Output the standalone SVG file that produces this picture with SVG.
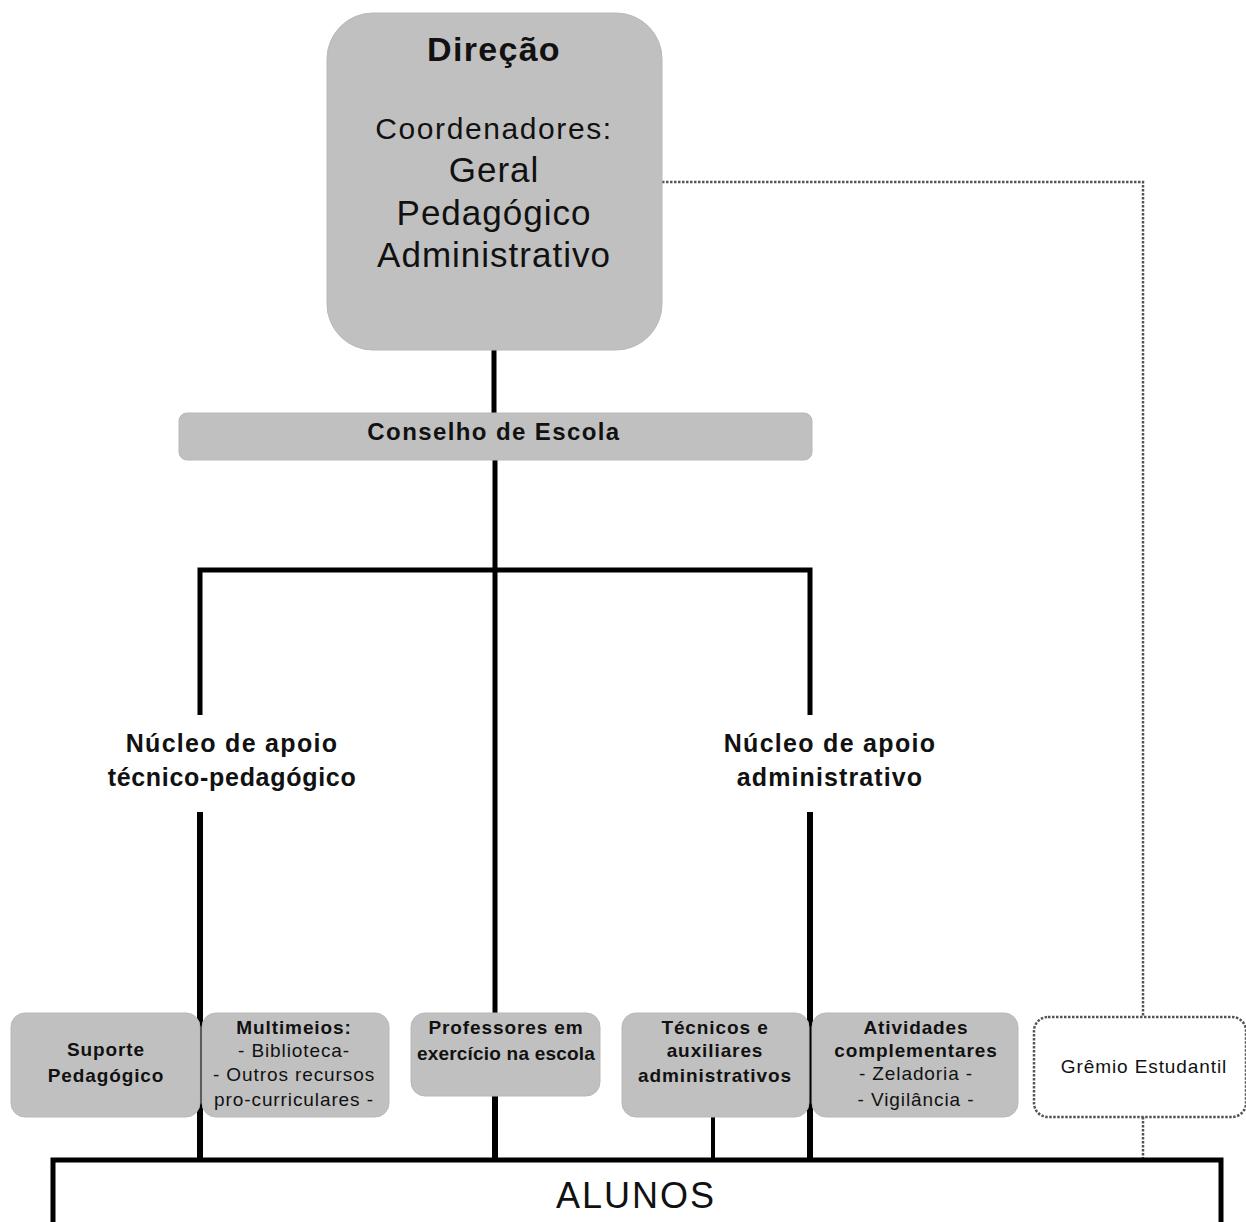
<svg xmlns="http://www.w3.org/2000/svg" width="1246" height="1222" viewBox="0 0 1246 1222">
<style>
.box{fill:#c0c0c0;stroke:#b8b8b8;stroke-width:1}
text{font-family:"Liberation Sans",Arial,sans-serif;fill:#111;text-anchor:middle}
.b{font-weight:bold}
.s{letter-spacing:0.9px}
.ln{stroke:#000;stroke-width:5;fill:none}
.dot{stroke:#555;stroke-width:2.5;stroke-dasharray:2.5 1.5;fill:none}
</style>
<rect width="1246" height="1222" fill="#fff"/>
<g id="connectors">
<line class="ln" x1="494" y1="350" x2="494" y2="413"/>
<line class="ln" x1="495" y1="460" x2="495" y2="1013"/>
<polyline class="ln" points="200,715 200,570 810,570 810,715"/>
<line class="ln" x1="200" y1="812" x2="200" y2="1160" style="stroke-width:6"/>
<line class="ln" x1="810" y1="812" x2="810" y2="1160" style="stroke-width:6"/>
<line class="ln" x1="495" y1="1096" x2="495" y2="1160" style="stroke-width:6"/>
<line class="ln" x1="713" y1="1117" x2="713" y2="1160" style="stroke-width:4"/>
<polyline class="dot" points="662,182 1143,182 1143,1017"/>
<line class="dot" x1="1143" y1="1117" x2="1143" y2="1158"/>
</g>
<g id="direcao">
<rect class="box" x="327" y="13" width="335" height="337" rx="46"/>
<text x="494" y="61" class="b" font-size="34" letter-spacing="1.3">Direção</text>
<text x="494" y="139" font-size="30" letter-spacing="1.6">Coordenadores:</text>
<text x="494" y="182" font-size="35" letter-spacing="1">Geral</text>
<text x="494" y="225" font-size="35" letter-spacing="1">Pedagógico</text>
<text x="494" y="267" font-size="35" letter-spacing="1">Administrativo</text>
</g>
<g id="conselho">
<rect class="box" x="179" y="413" width="633" height="47" rx="8"/>
<text x="494" y="440" class="b" font-size="24" letter-spacing="1.4">Conselho de Escola</text>
</g>
<g id="nucleo-tec">
<text x="232" y="752" class="b" font-size="25" letter-spacing="1.3">Núcleo de apoio</text>
<text x="232" y="786" class="b" font-size="25" letter-spacing="0.7">técnico-pedagógico</text>
</g>
<g id="nucleo-adm">
<text x="830" y="752" class="b" font-size="25" letter-spacing="1.3">Núcleo de apoio</text>
<text x="830" y="786" class="b" font-size="25" letter-spacing="1.1">administrativo</text>
</g>
<g id="suporte">
<rect class="box" x="11" y="1013" width="189" height="104" rx="14"/>
<text x="106" y="1056" class="b s" font-size="19">Suporte</text>
<text x="106" y="1082" class="b s" font-size="19">Pedagógico</text>
</g>
<g id="multimeios">
<rect class="box" x="202" y="1013" width="187" height="104" rx="14"/>
<text x="294" y="1034" class="b s" font-size="19">Multimeios:</text>
<text x="294" y="1057" class="s" font-size="19">- Biblioteca-</text>
<text x="294" y="1081" class="s" font-size="19">- Outros recursos</text>
<text x="294" y="1106" class="s" font-size="19">pro-curriculares -</text>
</g>
<g id="professores">
<rect class="box" x="411" y="1013" width="189" height="83" rx="14"/>
<text x="506" y="1034" class="b s" font-size="19">Professores em</text>
<text x="506" y="1060" class="b" font-size="19" letter-spacing="0.2">exercício na escola</text>
</g>
<g id="tecnicos">
<rect class="box" x="622" y="1013" width="187" height="104" rx="14"/>
<text x="715" y="1034" class="b s" font-size="19">Técnicos e</text>
<text x="715" y="1057" class="b s" font-size="19">auxiliares</text>
<text x="715" y="1082" class="b s" font-size="19">administrativos</text>
</g>
<g id="atividades">
<rect class="box" x="812" y="1013" width="206" height="104" rx="14"/>
<text x="916" y="1034" class="b s" font-size="19">Atividades</text>
<text x="916" y="1057" class="b s" font-size="19">complementares</text>
<text x="916" y="1080" class="s" font-size="19">- Zeladoria -</text>
<text x="916" y="1106" class="s" font-size="19">- Vigilância -</text>
</g>
<g id="gremio">
<rect class="dot" x="1034" y="1017" width="212" height="100" rx="14"/>
<text x="1144" y="1073" class="s" font-size="19">Grêmio Estudantil</text>
</g>
<g id="alunos">
<rect x="53" y="1160" width="1168" height="66" fill="#fff" stroke="#000" stroke-width="5"/>
<text x="636" y="1208" font-size="36" letter-spacing="2">ALUNOS</text>
</g>
</svg>
